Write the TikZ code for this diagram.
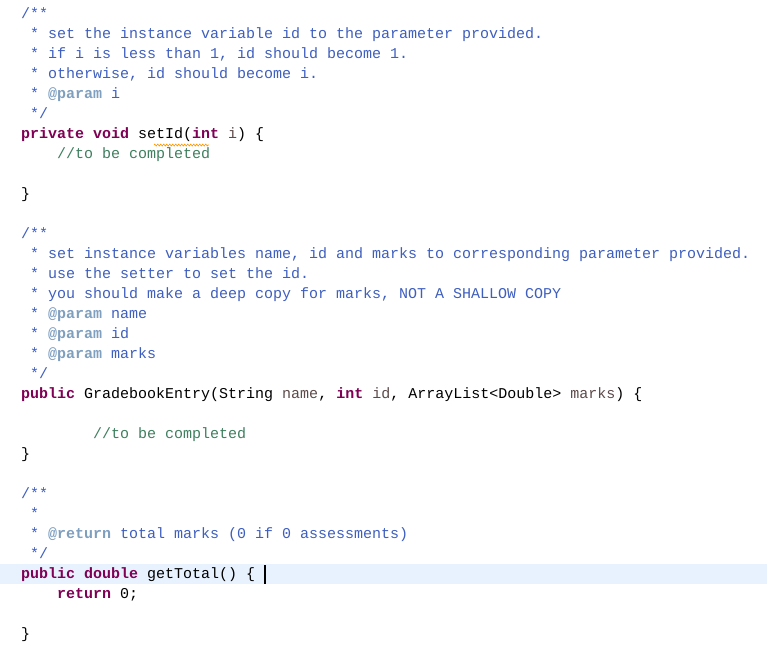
\documentclass[tikz,border=0pt]{standalone}
\usepackage{fontspec}
\setmonofont{Liberation Mono}
\usetikzlibrary{decorations.pathmorphing}
\definecolor{kw}{HTML}{7F0055}
\definecolor{jd}{HTML}{3F5FBF}
\definecolor{tg}{HTML}{7F9FBF}
\definecolor{cm}{HTML}{3F7F5F}
\definecolor{hl}{HTML}{E8F2FE}
\definecolor{pm}{HTML}{5E4A4A}
\newcommand{\kwd}[1]{\textcolor{kw}{\bfseries #1}}
\newcommand{\tgd}[1]{\textcolor{tg}{\bfseries #1}}
\newcommand{\pmd}[1]{\textcolor{pm}{#1}}
\begin{document}
\begin{tikzpicture}[x=1pt,y=-1pt,
  code/.style={anchor=west,inner sep=0pt,font=\ttfamily\fontsize{15}{15}\selectfont,text height=11pt,text depth=3pt},
  jdoc/.style={code,text=jd},
  lcom/.style={code,text=cm}]
\fill[white] (0,0) rectangle (767,657);
\useasboundingbox (0,0) rectangle (767,657);
\fill[hl] (0,564) rectangle (767,584);
\node[jdoc] (l1) at (21,14) {/**};
\node[jdoc] (l2) at (30,34) {* set the instance variable id to the parameter provided.};
\node[jdoc] (l3) at (30,54) {* if i is less than 1, id should become 1.};
\node[jdoc] (l4) at (30,74) {* otherwise, id should become i.};
\node[jdoc] (l5) at (30,94) {* \tgd{@param} i};
\node[jdoc] (l6) at (30,114) {*/};
\node[code] (l7) at (21,134) {\kwd{private} \kwd{void} setId(\kwd{int} \pmd{i}) \{};
\node[lcom] (l8) at (57,154) {//to be completed};
\node[code] (l9) at (21,194) {\}};
\node[jdoc] (l10) at (21,234) {/**};
\node[jdoc] (l11) at (30,254) {* set instance variables name, id and marks to corresponding parameter provided.};
\node[jdoc] (l12) at (30,274) {* use the setter to set the id.};
\node[jdoc] (l13) at (30,294) {* you should make a deep copy for marks, NOT A SHALLOW COPY};
\node[jdoc] (l14) at (30,314) {* \tgd{@param} name};
\node[jdoc] (l15) at (30,334) {* \tgd{@param} id};
\node[jdoc] (l16) at (30,354) {* \tgd{@param} marks};
\node[jdoc] (l17) at (30,374) {*/};
\node[code] (l18) at (21,394) {\kwd{public} GradebookEntry(String \pmd{name}, \kwd{int} \pmd{id}, ArrayList<Double> \pmd{marks}) \{};
\node[lcom] (l19) at (93,434) {//to be completed};
\node[code] (l20) at (21,454) {\}};
\node[jdoc] (l21) at (21,494) {/**};
\node[jdoc] (l22) at (30,514) {*};
\node[jdoc] (l23) at (30,534) {* \tgd{@return} total marks (0 if 0 assessments)};
\node[jdoc] (l24) at (30,554) {*/};
\node[code] (l25) at (21,574) {\kwd{public} \kwd{double} getTotal() \{};
\node[code] (l26) at (57,594) {\kwd{return} 0;};
\node[code] (l27) at (21,634) {\}};
\draw[line width=1.2pt] (265,565) -- (265,584);
\draw[orange!80!yellow,line width=0.6pt,decorate,decoration={zigzag,amplitude=1pt,segment length=3pt}] (154,145) -- (209,145);
\end{tikzpicture}
\end{document}
